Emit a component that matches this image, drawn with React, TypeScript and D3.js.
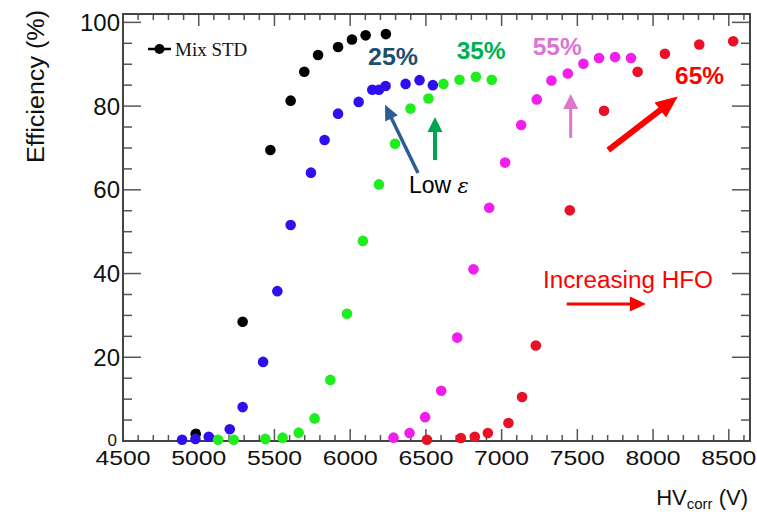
import React from "react";
import * as d3 from "d3";

const blackHV = [4980, 5290, 5473, 5607, 5697, 5788, 5920, 6012, 6102, 6236];
const blackEff = [1.7, 28.5, 69.5, 81.3, 88.2, 92.2, 94.1, 95.9, 96.9, 97.2];

const blueHV = [4890, 4978, 5066, 5205, 5290, 5425, 5519, 5607, 5741, 5831, 5920, 6056, 6146, 6190, 6234, 6366, 6458, 6546];
const blueEff = [0.3, 0.5, 1.0, 2.8, 8.1, 18.9, 35.8, 51.6, 64.1, 71.9, 78.2, 81.0, 83.9, 83.9, 84.8, 85.3, 86.2, 85.0];

const greenHV = [5128, 5231, 5440, 5554, 5660, 5765, 5869, 5979, 6084, 6190, 6296, 6398, 6517, 6616, 6722, 6830, 6935];
const greenEff = [0.3, 0.3, 0.5, 0.8, 2.0, 5.4, 14.6, 30.4, 47.8, 61.3, 71.0, 79.4, 81.8, 85.3, 86.3, 87.0, 86.3];

const magentaHV = [6286, 6392, 6495, 6601, 6707, 6814, 6918, 7023, 7129, 7232, 7329, 7437, 7540, 7643, 7749, 7854];
const magentaEff = [0.8, 1.9, 5.7, 12.0, 24.7, 41.0, 55.7, 66.5, 75.5, 81.6, 86.1, 87.8, 90.1, 91.5, 91.7, 91.5];

const redHV = [6507, 6731, 6823, 6909, 7045, 7135, 7226, 7450, 7676, 7898, 8078, 8305, 8529];
const redEff = [0.3, 0.7, 1.0, 1.9, 4.3, 10.5, 22.8, 55.1, 78.9, 88.2, 92.5, 94.7, 95.5];

const seriesNames = ["Mix STD", "25%", "35%", "55%", "65%"];
const seriesColors = ["#000000", "#2e10ee", "#1eee1e", "#f21ef0", "#ea1028"];

const xTicks = [4500, 5000, 5500, 6000, 6500, 7000, 7500, 8000, 8500];
const yTicks = [0, 20, 40, 60, 80, 100];

const W = 757;
const H = 512;
const FL = 123, FR = 750, FT = 14, FB = 441;

export default function App() {
  const x = d3.scaleLinear().domain([4500, 8640]).range([FL, FR]);
  const y = d3.scaleLinear().domain([0, 102]).range([FB, FT]);

  const series = [
    { hv: blackHV, eff: blackEff, color: seriesColors[0] },
    { hv: blueHV, eff: blueEff, color: seriesColors[1] },
    { hv: greenHV, eff: greenEff, color: seriesColors[2] },
    { hv: magentaHV, eff: magentaEff, color: seriesColors[3] },
    { hv: redHV, eff: redEff, color: seriesColors[4] },
  ];

  const xMinor = d3.range(4500, 8641, 100);
  const yMinor = d3.range(0, 102.1, 5);

  const arrow = (
    key: string,
    x1: number, y1: number, x2: number, y2: number,
    color: string, sw: number, hl: number, hw: number
  ) => {
    const px1 = x(x1), py1 = y(y1), px2 = x(x2), py2 = y(y2);
    const dx = px2 - px1, dy = py2 - py1;
    const len = Math.hypot(dx, dy);
    const ux = dx / len, uy = dy / len;
    const bx = px2 - ux * hl, by = py2 - uy * hl;
    const nx = -uy, ny = ux;
    const pts = [
      [px2, py2],
      [bx + nx * hw / 2, by + ny * hw / 2],
      [bx - nx * hw / 2, by - ny * hw / 2],
    ].map((p) => p.join(",")).join(" ");
    return (
      <g key={key}>
        <line x1={px1} y1={py1} x2={bx + ux * 1} y2={by + uy * 1} stroke={color} strokeWidth={sw} />
        <polygon points={pts} fill={color} />
      </g>
    );
  };

  const axisColor = "#444";

  return (
    <svg width={W} height={H} style={{ position: "absolute", left: 0, top: 0, background: "#fff" }}>
      <rect x={0} y={0} width={W} height={H} fill="#fff" />

      {/* ticks */}
      <g stroke="#555" strokeWidth={1.5}>
        {xMinor.map((v) => {
          const major = v % 500 === 0;
          const L = major ? 12 : 6;
          return (
            <g key={"xt" + v}>
              <line x1={x(v)} x2={x(v)} y1={FB} y2={FB - L} />
              <line x1={x(v)} x2={x(v)} y1={FT} y2={FT + L} />
            </g>
          );
        })}
        {yMinor.map((v) => {
          const major = v % 20 === 0;
          const L = major ? 18 : 9;
          return (
            <g key={"yt" + v}>
              <line x1={FL} x2={FL + L} y1={y(v)} y2={y(v)} />
              <line x1={FR} x2={FR - L} y1={y(v)} y2={y(v)} />
            </g>
          );
        })}
      </g>

      {/* frame */}
      <rect x={FL} y={FT} width={FR - FL} height={FB - FT} fill="none" stroke={axisColor} strokeWidth={2} />

      {/* tick labels */}
      <g fontFamily="Liberation Sans, Arial, sans-serif" fill="#111">
        {xTicks.map((v) => (
          <text key={"xl" + v} x={x(v)} y={465} fontSize={20} textAnchor="middle" textLength={55} lengthAdjust="spacingAndGlyphs">
            {v}
          </text>
        ))}
        {yTicks.map((v) => (
          <text key={"yl" + v} x={v === 0 ? 117 : 120} y={y(v) + (v === 0 ? 5 : 8.5)} fontSize={v === 0 ? 17 : 24} textAnchor="end">
            {v}
          </text>
        ))}
      </g>

      {/* axis titles */}
      <text x={748} y={505} fontFamily="Liberation Sans, Arial, sans-serif" fontSize={22} textAnchor="end" fill="#111">
        HV<tspan fontSize={15} dy={4}>corr</tspan><tspan dy={-4}> (V)</tspan>
      </text>
      <text
        transform="translate(44,10) rotate(-90)"
        fontFamily="Liberation Sans, Arial, sans-serif"
        fontSize={23}
        textAnchor="end"
        fill="#111"
        textLength={153}
        lengthAdjust="spacingAndGlyphs"
      >
        Efficiency (%)
      </text>

      {/* legend */}
      <line x1={148} x2={171} y1={49} y2={49} stroke="#000" strokeWidth={2.5} />
      <circle cx={159.5} cy={49} r={5} fill="#000" />
      <text x={175} y={56} fontFamily="Liberation Serif, Times New Roman, serif" fontSize={19} fill="#111">
        {seriesNames[0]}
      </text>

      {/* points */}
      {series.map((s, si) => (
        <g key={"s" + si} fill={s.color}>
          {s.hv.map((hv, i) => (
            <circle key={i} cx={x(hv)} cy={y(s.eff[i])} r={5.3} />
          ))}
        </g>
      ))}

      {/* annotations */}
      <g fontFamily="Liberation Sans, Arial, sans-serif" fontWeight="bold" fontSize={23}>
        <text x={x(6118)} y={y(89.7)} fill="#1f4e6c" textLength={50} lengthAdjust="spacingAndGlyphs">{seriesNames[1]}</text>
        <text x={x(6703)} y={y(91.2)} fill="#00b050" textLength={49} lengthAdjust="spacingAndGlyphs">{seriesNames[2]}</text>
        <text x={x(7205)} y={y(92.2)} fill="#dc74d2" textLength={49} lengthAdjust="spacingAndGlyphs">{seriesNames[3]}</text>
        <text x={x(8145)} y={y(85.3)} fill="#ff0000" textLength={49} lengthAdjust="spacingAndGlyphs">{seriesNames[4]}</text>
      </g>

      <text x={x(6388)} y={y(59.2)} fontFamily="Liberation Sans, Arial, sans-serif" fontSize={23} fill="#000">
        Low <tspan fontStyle="italic" fontFamily="DejaVu Serif, serif" fontSize={21}>ε</tspan>
      </text>
      <text
        x={x(7273)}
        y={y(36.6)}
        fontFamily="Liberation Sans, Arial, sans-serif"
        fontSize={23}
        fill="#ff0000"
        textLength={170}
        lengthAdjust="spacingAndGlyphs"
      >
        Increasing HFO
      </text>

      {arrow("blue", 6448, 64.0, 6230, 80.3, "#2b5d95", 3.5, 15, 14)}
      {arrow("green", 6560, 67.1, 6560, 77.4, "#00a64f", 4, 15, 15)}
      {arrow("pink", 7456, 72.4, 7456, 82.9, "#dd77cc", 3, 15, 15)}
      {arrow("red", 7704, 69.5, 8163, 82.3, "#ff0000", 6, 22, 19)}
      {arrow("hfo", 7430, 32.7, 7953, 32.7, "#ff0000", 3, 16, 15)}
    </svg>
  );
}
